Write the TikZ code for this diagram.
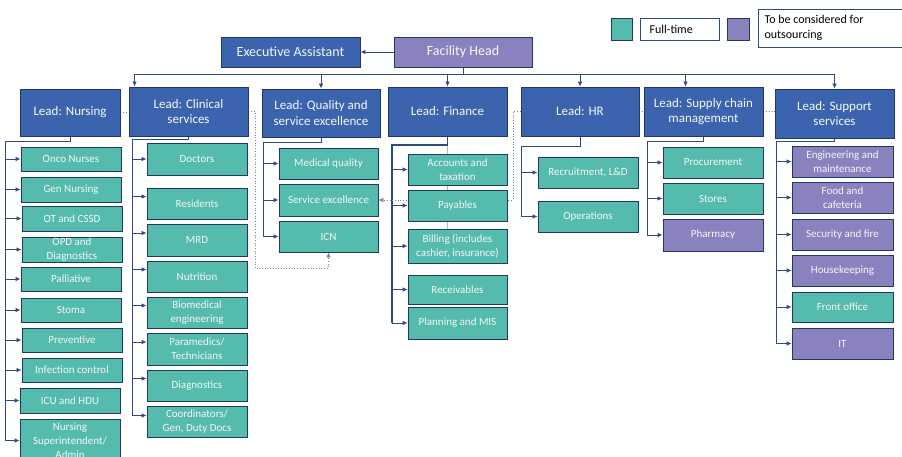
\documentclass[tikz,border=0pt]{standalone}
\usepackage{fontspec}
\setmainfont{Carlito}
\usetikzlibrary{arrows.meta,calc}

\definecolor{leadblue}{HTML}{3C64AE}
\definecolor{navyline}{HTML}{1F3864}
\definecolor{connblue}{HTML}{2F4B82}
\definecolor{lightconn}{HTML}{A9B6D3}
\definecolor{dotblue}{HTML}{6F82A8}
\definecolor{ftteal}{HTML}{55BBAD}
\definecolor{ospurple}{HTML}{8A82BF}
\definecolor{boxtext}{HTML}{F4F7F7}

\pgfdeclarelayer{background}
\pgfsetlayers{background,main}

\tikzset{
  basebox/.style={draw=navyline, line width=0.9pt, inner sep=0pt, align=center, text=boxtext},
  leadbox/.style={basebox, fill=leadblue, font=\fontsize{13}{15.5}\selectfont},
  topbox/.style={basebox, fill=leadblue, font=\fontsize{14}{16}\selectfont},
  headbox/.style={basebox, fill=ospurple, font=\fontsize{14}{16}\selectfont},
  ftbox/.style={basebox, fill=ftteal, font=\fontsize{11}{14}\selectfont},
  osbox/.style={basebox, fill=ospurple, font=\fontsize{11}{14}\selectfont},
  conn/.style={draw=connblue, line width=0.8pt},
  tip/.style={-{Latex[length=5pt,width=4.5pt]}},
  dotline/.style={draw=dotblue, line width=0.7pt, dotted},
  legswatch/.style={draw=navyline, line width=0.9pt},
  legtext/.style={draw=connblue, line width=0.8pt, fill=white, inner sep=0pt,
    text=black, font=\fontsize{12}{15}\selectfont},
}

% \orgbox{name}{x1}{y1}{x2}{y2}{style}{text}
\newcommand\orgbox[7]{%
  \node[#6, minimum width={(#4-#2)*1pt}, minimum height={(#5-#3)*1pt}]
    (#1) at ({(#2+#4)/2},{(#3+#5)/2}) {#7};}

\begin{document}
\begin{tikzpicture}[x=1pt, y=-1pt]
\useasboundingbox (0,0) rectangle (902,457);
\clip (0,0) rectangle (902,457);

% ---- legend ----
\orgbox{legft}{611}{18}{632}{40}{legswatch, fill=ftteal}{}
\orgbox{legftlabel}{640}{18}{719}{40}{legtext}{}
\node[anchor=west, font=\fontsize{12}{15}\selectfont] (legfttext) at (646,29) {Full-time};
\orgbox{legos}{727}{18}{749}{40}{legswatch, fill=ospurple}{}
\orgbox{legoslabel}{758}{9}{910}{47}{legtext}{}
\node[anchor=west, align=left, font=\fontsize{12}{15}\selectfont] (legostext) at (761,28)
  {To be considered for\\outsourcing};

% ---- top ----
\orgbox{ea}{221}{37}{360}{67}{topbox}{Executive Assistant}
\orgbox{fh}{394}{37}{532}{67}{headbox}{Facility Head}

% ---- leads ----
\orgbox{nurs}{20}{89}{120}{136}{leadbox}{Lead: Nursing}
\orgbox{clin}{129}{87}{248}{136}{leadbox}{Lead: Clinical\\services}
\orgbox{qual}{262}{89}{380}{137}{leadbox}{Lead: Quality and\\service excellence}
\orgbox{fin}{388}{87}{507}{136}{leadbox}{Lead: Finance}
\orgbox{hr}{521}{87}{639}{136}{leadbox}{Lead: HR}
\orgbox{sc}{644}{87}{763}{136}{leadbox}{Lead: Supply chain\\management}
\orgbox{sup}{775}{89}{894}{138}{leadbox}{Lead: Support\\services}

% ---- nursing ----
\orgbox{n1}{21}{147}{121}{171}{ftbox}{Onco Nurses}
\orgbox{n2}{21}{177}{121}{202}{ftbox}{Gen Nursing}
\orgbox{n3}{22}{206}{122}{231}{ftbox}{OT and CSSD}
\orgbox{n4}{22}{237}{122}{262}{ftbox}{OPD and\\Diagnostics}
\orgbox{n5}{21}{267}{121}{291}{ftbox}{Palliative}
\orgbox{n6}{21}{298}{121}{322}{ftbox}{Stoma}
\orgbox{n7}{22}{328}{122}{352}{ftbox}{Preventive}
\orgbox{n8}{22}{358}{122}{382}{ftbox}{Infection control}
\orgbox{n9}{20}{388}{120}{413}{ftbox}{ICU and HDU}
\orgbox{n10}{20}{419}{120}{462}{ftbox}{Nursing\\Superintendent/\\Admin}

% ---- clinical ----
\orgbox{c1}{147}{143}{247}{175}{ftbox}{Doctors}
\orgbox{c2}{147}{188}{247}{219}{ftbox}{Residents}
\orgbox{c3}{147}{224}{247}{256}{ftbox}{MRD}
\orgbox{c4}{147}{261}{247}{292}{ftbox}{Nutrition}
\orgbox{c5}{147}{297}{247}{328}{ftbox}{Biomedical\\engineering}
\orgbox{c6}{147}{333}{247}{365}{ftbox}{Paramedics/\\Technicians}
\orgbox{c7}{147}{370}{247}{401}{ftbox}{Diagnostics}
\orgbox{c8}{147}{406}{247}{437}{ftbox}{Coordinators/\\Gen, Duty Docs}

% ---- quality ----
\orgbox{q1}{279}{148}{378}{179}{ftbox}{Medical quality}
\orgbox{q2}{279}{184}{378}{216}{ftbox}{Service excellence}
\orgbox{q3}{279}{221}{378}{252}{ftbox}{ICN}

% ---- finance ----
\orgbox{f1}{408}{154}{507}{185}{ftbox}{Accounts and\\taxation}
\orgbox{f2}{408}{190}{507}{221}{ftbox}{Payables}
\orgbox{f3}{408}{229}{507}{263}{ftbox}{Billing (includes\\cashier, insurance)}
\orgbox{f4}{408}{275}{507}{304}{ftbox}{Receivables}
\orgbox{f5}{408}{307}{507}{339}{ftbox}{Planning and MIS}

% ---- HR ----
\orgbox{h1}{538}{157}{638}{188}{ftbox}{Recruitment, L\&D}
\orgbox{h2}{538}{201}{638}{232}{ftbox}{Operations}

% ---- supply chain ----
\orgbox{s1}{663}{147}{763}{178}{ftbox}{Procurement}
\orgbox{s2}{663}{183}{763}{214}{ftbox}{Stores}
\orgbox{s3}{663}{219}{763}{251}{osbox}{Pharmacy}

% ---- support ----
\orgbox{u1}{792}{146}{893}{177}{osbox}{Engineering and\\maintenance}
\orgbox{u2}{792}{182}{893}{213}{osbox}{Food and\\cafeteria}
\orgbox{u3}{792}{219}{893}{250}{osbox}{Security and fire}
\orgbox{u4}{792}{255}{893}{286}{osbox}{Housekeeping}
\orgbox{u5}{792}{292}{893}{322}{ftbox}{Front office}
\orgbox{u6}{792}{328}{893}{359}{osbox}{IT}

% ---- connectors (behind the boxes) ----
\begin{pgfonlayer}{background}
  % facility head to leads
  \draw[conn, tip] (fh.west) -- (ea.east);
  \coordinate (topbus) at (0,74);
  \coordinate (tclin) at ([xshift=6pt]clin.north west);
  \coordinate (tsc) at ([xshift=-18pt]sc.north);
  \draw[conn] (fh.south) -- (fh.south |- topbus);
  \draw[conn] (topbus -| tclin) -- (topbus -| sup.north);
  \foreach \t in {tclin, qual.north, fin.north, hr.north, tsc, sup.north}
    \draw[conn, tip] (topbus -| \t) -- (\t);

  % nursing
  \coordinate (nbus) at (5,141);
  \draw[conn] (nurs.south) |- (nbus) -- (nbus |- n10.west);
  \foreach \c in {n1,n2,n3,n4,n5,n6,n7,n8,n9,n10}
    \draw[conn, tip] (nbus |- \c.west) -- (\c.west);

  % clinical
  \coordinate (cbus) at (132,139);
  \draw[conn] (clin.south) |- (cbus) -- (132,415);
  \foreach \c/\o in {c1/0,c2/7,c3/7,c4/7,c5/7,c6/7,c7/7,c8/6}{
    \coordinate (ct) at ([yshift=\o pt]\c.west);
    \draw[conn, tip] (cbus |- ct) -- (ct);
  }

  % quality
  \coordinate (qbus) at (263,142);
  \draw[conn] (qual.south) |- (qbus) -- (qbus |- q3.west);
  \foreach \c in {q1,q2,q3}
    \draw[conn, tip] (qbus |- \c.west) -- (\c.west);

  % finance
  \draw[draw=lightconn, line width=1pt] (fin.south) -- (fin.south |- f3.north);
  \coordinate (fbus) at (392,145);
  \draw[conn, line width=1.3pt] (fin.south) |- (fbus) -- (fbus |- f5.west);
  \foreach \c in {f1,f2,f3,f4,f5}
    \draw[conn, tip] (fbus |- \c.west) -- (\c.west);

  % HR
  \coordinate (hbus) at (521,146);
  \draw[conn] (hr.south) |- (hbus) -- (hbus |- h2.west);
  \foreach \c in {h1,h2}
    \draw[conn, tip] (hbus |- \c.west) -- (\c.west);

  % supply chain
  \coordinate (sbus) at (647,141);
  \draw[conn] (sc.south) |- (sbus) -- (sbus |- s3.west);
  \foreach \c in {s1,s2,s3}
    \draw[conn, tip] (sbus |- \c.west) -- (\c.west);

  % support
  \coordinate (ubus) at (776,141);
  \draw[conn] (sup.south) |- (ubus) -- (ubus |- u6.west);
  \foreach \c in {u1,u2,u3,u4,u5,u6}
    \draw[conn, tip] (ubus |- \c.west) -- (\c.west);

  % dotted cross links
  \draw[dotline] (nurs.east) -- (nurs.east -| clin.west);
  \coordinate (dcl) at (255,268);
  \draw[dotline, tip] (clin.east) -| (dcl) -| (q3.south);
  \coordinate (dhr) at (513,200);
  \draw[dotline, tip] (hr.west) -| (dhr) -- (q2.east);
  \draw[dotline] (hr.east) -- (hr.east -| sc.west);
  \draw[dotline] (sc.east) -- (sc.east -| sup.west);
\end{pgfonlayer}
\end{tikzpicture}
\end{document}
